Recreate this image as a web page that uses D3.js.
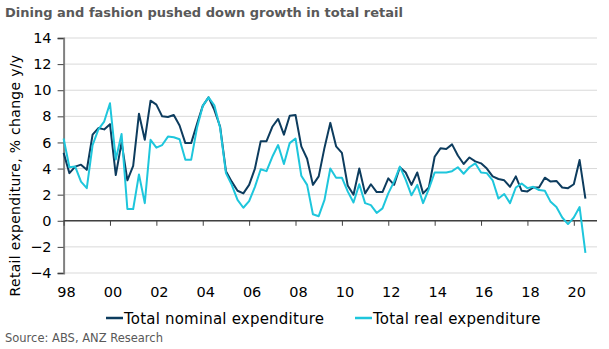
<!DOCTYPE html>
<html>
<head>
<meta charset="utf-8">
<script src="https://cdn.jsdelivr.net/npm/d3@7"></script>
<style>
  body { margin: 0; background: #fff; }
  text { font-family: "DejaVu Sans", Verdana, sans-serif; }
</style>
</head>
<body>
<div id="chart"></div>
<script>
// quarterly, from 1998 Q1 to 2020 Q2
const firstYear = 1998;
const nominal = [5.2, 3.65, 4.15, 4.3, 3.9, 6.6, 7.1, 7.0, 7.4, 3.5,
  6.0, 3.1, 4.2, 8.2, 6.2, 9.2, 8.9, 8.0, 7.95, 8.1,
  7.3, 5.95, 5.95, 7.4, 8.8, 9.45, 8.5, 7.2, 3.8, 3.0,
  2.3, 2.1, 2.75, 4.0, 6.1, 6.1, 7.2, 7.8, 6.6, 8.05,
  8.1, 5.7, 4.75, 2.75, 3.4, 5.6, 7.5, 5.7, 5.2, 2.7,
  2.0, 4.0, 2.1, 2.8, 2.2, 2.2, 3.25, 2.75, 4.1, 3.7,
  2.75, 3.7, 2.1, 2.55, 4.9, 5.55, 5.5, 5.85, 5.0, 4.35,
  4.85, 4.55, 4.4, 4.0, 3.4, 3.2, 3.1, 2.6, 3.4, 2.3,
  2.25, 2.55, 2.55, 3.3, 3.0, 3.05, 2.55, 2.5, 2.8, 4.65,
  1.7];
const real = [6.3, 4.1, 4.15, 3.0, 2.5, 5.8, 7.0, 7.6, 9.0, 4.7,
  6.65, 0.9, 0.9, 3.55, 1.35, 6.2, 5.6, 5.8, 6.45, 6.4,
  6.25, 4.67, 4.67, 7.1, 8.8, 9.45, 8.85, 7.1, 3.65, 2.75,
  1.6, 1.0, 1.5, 2.6, 3.95, 3.8, 4.9, 5.8, 4.35, 5.95,
  6.3, 3.45, 2.75, 0.5, 0.35, 1.6, 4.0, 3.3, 3.3, 2.25,
  1.4, 2.8, 1.35, 1.2, 0.6, 0.95, 2.1, 3.0, 4.15, 3.15,
  1.95, 2.75, 1.35, 2.45, 3.7, 3.7, 3.7, 3.8, 4.1, 3.6,
  4.1, 4.4, 3.7, 3.65, 3.1, 1.7, 2.05, 1.35, 2.55, 2.85,
  2.5, 2.6, 2.35, 2.3, 1.45, 1.05, 0.25, -0.25, 0.25, 1.05,
  -2.45];
const quarters = nominal.map((d, i) => firstYear + i / 4);

const yTicks = [-4, -2, 0, 2, 4, 6, 8, 10, 12, 14];
const xTicks = [1998, 2000, 2002, 2004, 2006, 2008, 2010, 2012, 2014, 2016, 2018, 2020];
const xTickLabels = ["98", "00", "02", "04", "06", "08", "10", "12", "14", "16", "18", "20"];

const seriesNames = ["Total nominal expenditure", "Total real expenditure"];
const colors = ["#0d3c5e", "#1ec6dc"];

const width = 609, height = 349;
const plotLeft = 63.6, plotRight = 597, plotTop = 38, plotBottom = 273;

const svg = d3.select("#chart").append("svg")
  .attr("width", width)
  .attr("height", height);

const x = d3.scaleLinear().domain([1998, 2021]).range([plotLeft, plotRight]);
const y = d3.scaleLinear().domain([-4, 14]).range([plotBottom, plotTop]);

// title
svg.append("text")
  .attr("x", 5).attr("y", 17)
  .style("font-size", "13px").style("font-weight", "bold")
  .attr("fill", "#595959")
  .text("Dining and fashion pushed down growth in total retail");

// gridlines
svg.append("g").selectAll("line").data(yTicks).join("line")
  .attr("x1", plotLeft).attr("x2", plotRight)
  .attr("y1", d => y(d)).attr("y2", d => y(d))
  .attr("stroke", "#d9d9d9").attr("stroke-width", 1);

// y axis
const yAxis = svg.append("g")
  .attr("transform", "translate(" + plotLeft + ",0)")
  .call(d3.axisLeft(y).tickValues(yTicks).tickSize(6).tickPadding(6));
yAxis.select(".domain").attr("stroke", "#808080").attr("stroke-width", 2);
yAxis.selectAll(".tick line").attr("stroke", "#404040");
yAxis.selectAll(".tick text")
  .style("font-size", "14.5px").attr("fill", "#000")
  .style("font-family", "'DejaVu Sans', sans-serif");

// x axis on zero line
const xAxis = svg.append("g")
  .attr("transform", "translate(0," + y(0) + ")")
  .call(d3.axisBottom(x).tickValues(xTicks).tickSize(5).tickFormat(""));
xAxis.select(".domain").attr("d", "M" + plotLeft + ",0H" + plotRight).attr("stroke", "#404040").attr("stroke-width", 1.5);
xAxis.selectAll(".tick line").attr("stroke", "#404040");

// x tick labels under the plot
svg.append("g").selectAll("text").data(xTicks).join("text")
  .attr("x", d => x(d) + 3)
  .attr("y", 297)
  .attr("text-anchor", "middle")
  .style("font-size", "14.5px")
  .text((d, i) => xTickLabels[i]);

// y axis title
svg.append("text")
  .attr("transform", "translate(20," + ((plotTop + plotBottom) / 2 + 20) + ") rotate(-90)")
  .attr("text-anchor", "middle")
  .style("font-size", "14px")
  .style("letter-spacing", "0.3px")
  .text("Retail expenditure,  % change y/y");

// lines
const line = d3.line()
  .x((d, i) => x(quarters[i]))
  .y(d => y(d));

[nominal, real].forEach(function(series, k) {
  svg.append("path")
    .datum(series)
    .attr("fill", "none")
    .attr("stroke", colors[k])
    .attr("stroke-width", 2)
    .attr("stroke-linejoin", "round")
    .attr("d", line);
});

// legend
const legendX = [106, 355];
const legend = svg.append("g").selectAll("g").data(seriesNames).join("g")
  .attr("transform", (d, i) => "translate(" + legendX[i] + ",318)");
legend.append("line")
  .attr("x1", 0).attr("x2", 17).attr("y1", 0).attr("y2", 0)
  .attr("stroke", (d, i) => colors[i]).attr("stroke-width", 2.5);
legend.append("text")
  .attr("x", 18).attr("y", 5.5)
  .style("font-size", "15px")
  .style("letter-spacing", "0.2px")
  .text(d => d);

// source
svg.append("text")
  .attr("x", 5).attr("y", 342)
  .style("font-size", "11.5px")
  .attr("fill", "#595959")
  .text("Source: ABS, ANZ Research");
</script>
</body>
</html>
